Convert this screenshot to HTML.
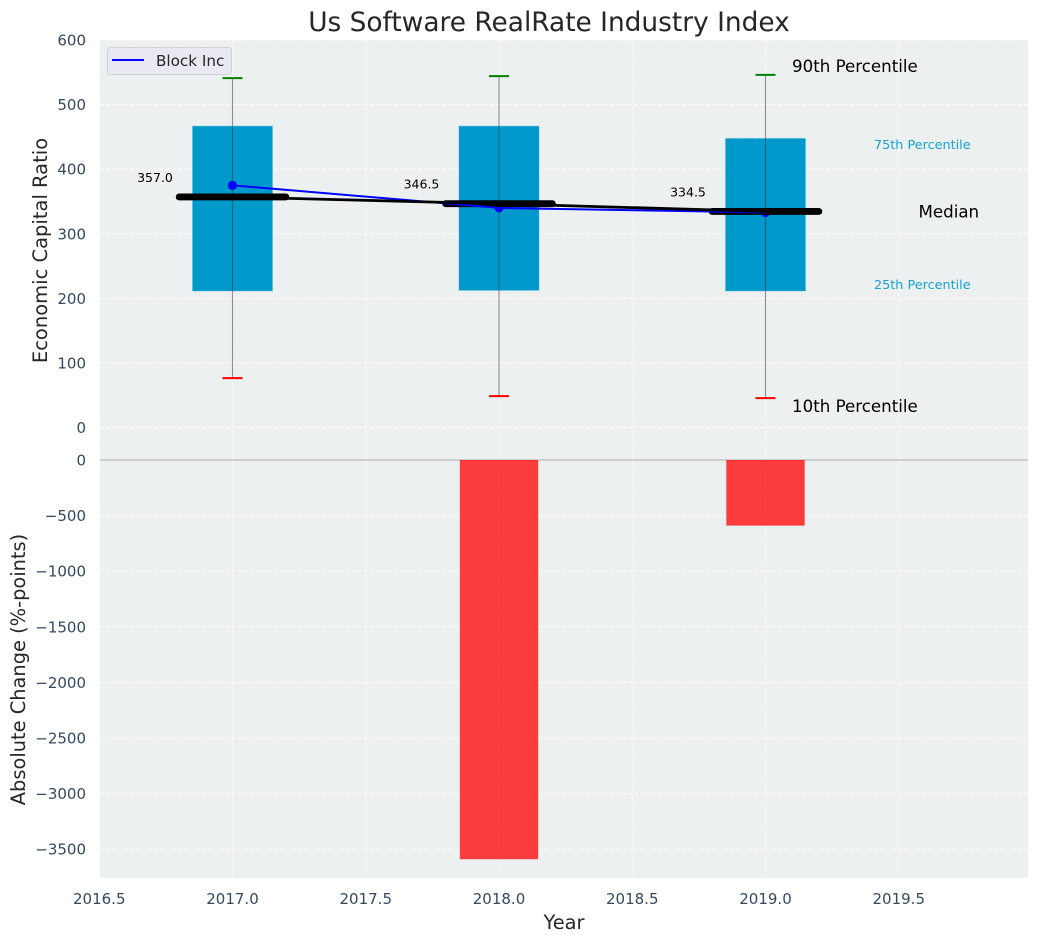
<!DOCTYPE html>
<html lang="en">
<head>
<meta charset="utf-8">
<title>Us Software RealRate Industry Index</title>
<style>
html,body{margin:0;padding:0;background:#fff;}
svg{display:block;font-family:"DejaVu Sans","Liberation Sans",sans-serif;}
</style>
</head>
<body>
<svg id="chart" xmlns="http://www.w3.org/2000/svg" width="1039" height="942" viewBox="0 0 1039 942"></svg>
<script>
const years = [2017, 2018, 2019];
const p90 = [541, 544, 546];
const p75 = [467, 467, 448];
const medians = [357.0, 346.5, 334.5];
const p25 = [211, 212, 211];
const p10 = [76.5, 48.5, 45.5];
const companyName = 'Block Inc';
const companyValues = [375, 340, 333];
const absoluteChange = [0, -3590, -590];
const xTicks = [2016.5, 2017, 2017.5, 2018, 2018.5, 2019, 2019.5];
const topTicks = [0, 100, 200, 300, 400, 500, 600];
const bottomTicks = [0, -500, -1000, -1500, -2000, -2500, -3000, -3500];

const svg = document.getElementById('chart');
const NS = 'http://www.w3.org/2000/svg';
const PLOT = {left: 100, right: 1028, top: 40, bottom: 878};
const xPos = v => 232.5 + (v - 2017) * 266.5;
const yTop = v => 427.5 - v * 0.6458;
const yBottom = v => 460 + v * -0.1112;
const fmt = v => String(v).replace('-', '\u2212');

function add(tag, attrs, parent) {
  const el = document.createElementNS(NS, tag);
  for (const k in attrs) el.setAttribute(k, attrs[k]);
  (parent || svg).appendChild(el);
  return el;
}
function addText(str, attrs) {
  const el = add('text', attrs);
  el.textContent = str;
  return el;
}

let el;
el = add('rect', {x: PLOT.left, y: PLOT.top, width: PLOT.right - PLOT.left, height: PLOT.bottom - PLOT.top, fill: '#ecf0f1'});



xTicks.forEach(t => {
  el = add('line', {x1: xPos(t), x2: xPos(t), y1: PLOT.top, y2: PLOT.bottom, stroke: '#fff', 'stroke-width': 1, 'stroke-dasharray': '4 2', opacity: 0.85});
  
  
  el = addText(t.toFixed(1), {x: xPos(t), y: 904, 'text-anchor': 'middle', 'font-size': 15, fill: '#34495e'});
  
  
});
topTicks.forEach(t => {
  el = add('line', {x1: PLOT.left, x2: PLOT.right, y1: yTop(t), y2: yTop(t), stroke: '#fff', 'stroke-width': 1, 'stroke-dasharray': '4 2', opacity: 0.85});
  
  
  el = addText(fmt(t), {x: 86, y: yTop(t) + 5.5, 'text-anchor': 'end', 'font-size': 15, fill: '#34495e'});
  
  
});
bottomTicks.forEach(t => {
  el = add('line', {x1: PLOT.left, x2: PLOT.right, y1: yBottom(t), y2: yBottom(t), stroke: '#fff', 'stroke-width': 1, 'stroke-dasharray': '4 2', opacity: 0.85});
  
  
  el = addText(fmt(t), {x: 86, y: yBottom(t) + 5.5, 'text-anchor': 'end', 'font-size': 15, fill: '#34495e'});
  
  
});

el = add('line', {x1: PLOT.left, x2: PLOT.right, y1: yBottom(0), y2: yBottom(0), stroke: '#b9b9b9', 'stroke-width': 1.2});



const boxHalf = 0.151;
const medianHalf = 0.2;
const capHalf = 0.0375;

years.forEach((yr, i) => {
  el = add('rect', {x: xPos(yr - boxHalf), width: xPos(yr + boxHalf) - xPos(yr - boxHalf), y: yTop(p75[i]), height: yTop(p25[i]) - yTop(p75[i]), fill: '#0099cc', stroke: '#b5dbe8', 'stroke-width': 0.6});
  
  
  el = add('line', {x1: xPos(yr), x2: xPos(yr), y1: yTop(p90[i]), y2: yTop(p10[i]), stroke: '#3a3a3a', 'stroke-width': 1.1, opacity: 0.55});
  
  
  el = add('line', {x1: xPos(yr - capHalf), x2: xPos(yr + capHalf), y1: yTop(p90[i]), y2: yTop(p90[i]), stroke: '#008000', 'stroke-width': 2});
  
  
  el = add('line', {x1: xPos(yr - capHalf), x2: xPos(yr + capHalf), y1: yTop(p10[i]), y2: yTop(p10[i]), stroke: '#ff0000', 'stroke-width': 2});
  
  
  el = add('circle', {cx: xPos(yr), cy: yTop(companyValues[i]), r: 4.6, fill: '#0000ff'});
  
  
});

years.forEach((yr, i) => {
  el = add('line', {x1: xPos(yr - medianHalf), x2: xPos(yr + medianHalf), y1: yTop(medians[i]), y2: yTop(medians[i]), stroke: '#000', 'stroke-width': 6.9, 'stroke-linecap': 'round'});
  
  
  el = addText(medians[i].toFixed(1), {x: xPos(yr) - 77.5, y: yTop(medians[i]) - 15, 'text-anchor': 'middle', 'font-size': 12.5, fill: '#000'});
  
  
});

el = add('polyline', {points: years.map((yr, i) => xPos(yr) + ',' + yTop(companyValues[i])).join(' '), fill: 'none', stroke: '#0000ff', 'stroke-width': 2});


el = add('polyline', {points: years.map((yr, i) => xPos(yr) + ',' + yTop(medians[i])).join(' '), fill: 'none', stroke: '#000', 'stroke-width': 2.8});



years.forEach((yr, i) => {
  if (absoluteChange[i] === 0) return;
  el = add('rect', {x: xPos(yr - 0.147), width: xPos(yr + 0.147) - xPos(yr - 0.147), y: yBottom(0), height: yBottom(absoluteChange[i]) - yBottom(0), fill: '#ff0000', 'fill-opacity': 0.75});
  
  
});

const lastIdx = years.length - 1;
const annX = xPos(years[lastIdx]);
el = addText('90th Percentile', {x: annX + 26.5, y: yTop(p90[lastIdx]) - 3, 'font-size': 16.67, fill: '#000'});


el = addText('10th Percentile', {x: annX + 26.5, y: yTop(p10[lastIdx]) + 14, 'font-size': 16.67, fill: '#000'});


el = addText('75th Percentile', {x: annX + 108.5, y: yTop(p75[lastIdx]) + 11, 'font-size': 12.8, fill: '#0099cc', 'fill-opacity': 0.9});


el = addText('25th Percentile', {x: annX + 108.5, y: yTop(p25[lastIdx]) - 2, 'font-size': 12.8, fill: '#0099cc', 'fill-opacity': 0.9});


el = addText('Median', {x: annX + 153, y: yTop(medians[lastIdx]) + 6, 'font-size': 16.67, fill: '#000'});



el = add('rect', {x: 107.5, y: 47.5, width: 124, height: 27, rx: 3, fill: '#e9e9f1', stroke: '#d0d0d4', 'stroke-width': 1});


el = add('line', {x1: 112, x2: 144, y1: 60, y2: 60, stroke: '#0000ff', 'stroke-width': 2});


el = addText(companyName, {x: 156, y: 66, 'font-size': 15.2, fill: '#262626'});



el = addText('Us Software RealRate Industry Index', {x: 549, y: 31, 'text-anchor': 'middle', 'font-size': 26.4, fill: '#262626'});


el = addText('Year', {x: 564, y: 929, 'text-anchor': 'middle', 'font-size': 19.4, fill: '#262626'});


el = addText('Economic Capital Ratio', {transform: 'translate(47,250.5) rotate(-90)', 'text-anchor': 'middle', 'font-size': 19.5, fill: '#262626'});


el = addText('Absolute Change (%-points)', {transform: 'translate(25,669.5) rotate(-90)', 'text-anchor': 'middle', 'font-size': 19.4, fill: '#262626'});


</script>
</body>
</html>
